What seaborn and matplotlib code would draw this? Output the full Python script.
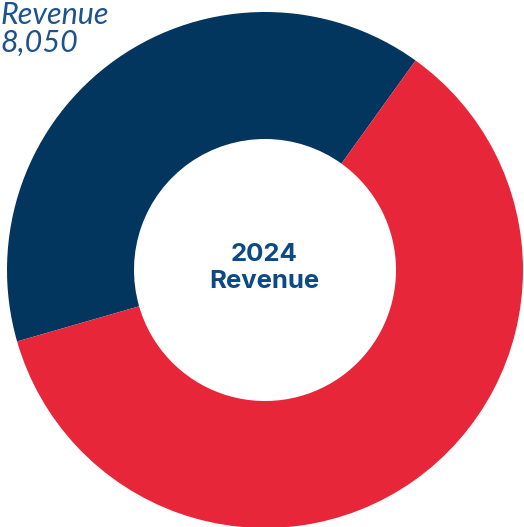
import matplotlib
matplotlib.use("Agg")
import matplotlib.pyplot as plt
import seaborn as sns

categories = ["Revenue A", "Revenue B"]
values = [8050, 12390]
colors = ["#02365e", "#e82639"]
label_text = "Revenue\n8,050"
center_text = "2024\nRevenue"

sns.set_theme(style="white")
plt.rcParams['font.family'] = ['Inter', 'DejaVu Sans']

W, H = 524, 527
fig = plt.figure(figsize=(W / 100, H / 100), dpi=100)
ax = fig.add_axes([0, 0, 1, 1])

cx, cy = 265, H - 270
R = 258
ax.pie(values, colors=colors, startangle=54.3, counterclock=True,
       center=(cx, cy), radius=R, frame=True,
       wedgeprops=dict(width=R - 131, edgecolor='none', antialiased=True))
ax.set_xlim(0, W)
ax.set_ylim(0, H)
ax.axis('off')

ax.text(cx - 1, cy + 2, center_text, ha='center', va='center', fontsize=18.5,
        fontweight='bold', color="#0c4a85", linespacing=1.25,
        family=['Inter', 'DejaVu Sans'])
ax.text(0, H - 1, label_text, ha='left', va='top', fontsize=22, fontstyle='italic',
        fontweight='normal', color="#1d5290", linespacing=1.0,
        family=['Lato', 'DejaVu Sans'])

fig.savefig("out.png", dpi=100)
